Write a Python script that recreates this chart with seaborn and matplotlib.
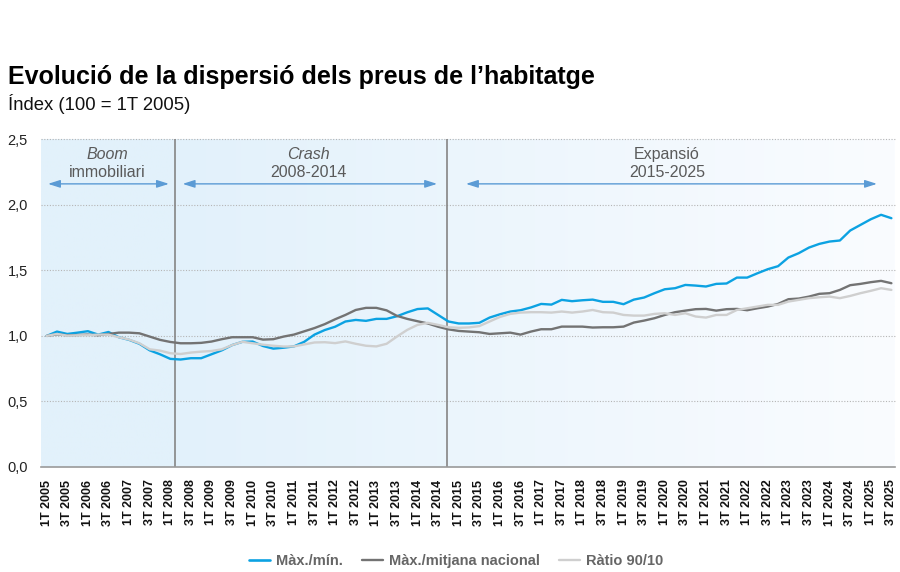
import numpy as np
import pandas as pd
import matplotlib
matplotlib.use("Agg")
import matplotlib.pyplot as plt
import seaborn as sns

# ---------------- data ----------------
quarters = [f"{q}T {y}" for y in range(2005, 2026) for q in (1, 2, 3, 4)][:83]
tick_labels = quarters[::2]

max_min = [
    1.00, 1.033, 1.015, 1.025, 1.036, 1.01, 1.03, 0.99, 0.97, 0.94,
    0.89, 0.86, 0.825, 0.82, 0.83, 0.83, 0.86, 0.89, 0.93, 0.955,
    0.957, 0.923, 0.903, 0.91, 0.92, 0.955, 1.01, 1.045, 1.07, 1.11,
    1.122, 1.115, 1.13, 1.13, 1.15, 1.18, 1.205, 1.21, 1.16, 1.11,
    1.095, 1.095, 1.10, 1.14, 1.165, 1.186, 1.196, 1.217, 1.244, 1.239,
    1.275, 1.265, 1.272, 1.277, 1.26, 1.26, 1.242, 1.277, 1.293, 1.326,
    1.356, 1.364, 1.389, 1.384, 1.377, 1.397, 1.40, 1.445, 1.445, 1.478,
    1.509, 1.532, 1.598, 1.631, 1.674, 1.702, 1.72, 1.728, 1.804, 1.847,
    1.89, 1.924, 1.898,
]
max_mitjana = [
    1.00, 1.012, 1.005, 1.007, 1.01, 1.005, 1.015, 1.025, 1.025, 1.02,
    0.995, 0.97, 0.954, 0.944, 0.944, 0.947, 0.957, 0.975, 0.99, 0.99,
    0.99, 0.972, 0.975, 0.995, 1.01, 1.035, 1.06, 1.09, 1.127, 1.16,
    1.198, 1.214, 1.214, 1.195, 1.153, 1.13, 1.112, 1.095, 1.07, 1.05,
    1.038, 1.033, 1.028, 1.015, 1.02, 1.025, 1.01, 1.033, 1.051, 1.051,
    1.071, 1.071, 1.071, 1.064, 1.066, 1.066, 1.071, 1.102, 1.117, 1.135,
    1.16, 1.181, 1.193, 1.204, 1.206, 1.193, 1.204, 1.206, 1.196, 1.211,
    1.224, 1.244, 1.28, 1.285, 1.30, 1.321, 1.326, 1.351, 1.387, 1.397,
    1.41, 1.42, 1.402,
]
ratio_90_10 = [
    1.00, 1.015, 1.002, 1.005, 1.005, 1.01, 1.01, 0.99, 0.972, 0.944,
    0.898, 0.888, 0.868, 0.862, 0.873, 0.88, 0.885, 0.898, 0.93, 0.955,
    0.944, 0.933, 0.925, 0.919, 0.92, 0.935, 0.95, 0.952, 0.945, 0.958,
    0.94, 0.925, 0.92, 0.94, 0.995, 1.046, 1.084, 1.10, 1.084, 1.066,
    1.062, 1.065, 1.075, 1.11, 1.145, 1.168, 1.178, 1.181, 1.181, 1.178,
    1.186, 1.178, 1.186, 1.198, 1.181, 1.178, 1.16, 1.155, 1.155, 1.168,
    1.173, 1.16, 1.173, 1.148, 1.14, 1.16, 1.16, 1.198, 1.211, 1.224,
    1.237, 1.237, 1.262, 1.275, 1.288, 1.295, 1.30, 1.288, 1.305, 1.326,
    1.344, 1.364, 1.351,
]

series_names = ["Màx./mín.", "Màx./mitjana nacional", "Ràtio 90/10"]
series_colors = ["#0CA2E2", "#737373", "#CFCFCF"]

period_titles = ["Boom", "Crash", "Expansió"]
period_subtitles = ["immobiliari", "2008-2014", "2015-2025"]

y_ticks = [0.0, 0.5, 1.0, 1.5, 2.0, 2.5]
y_tick_labels = ["0,0", "0,5", "1,0", "1,5", "2,0", "2,5"]

title = "Evolució de la dispersió dels preus de l’habitatge"
subtitle = "Índex (100 = 1T 2005)"

# ---------------- layout constants ----------------
XMIN, XMAX = -0.55, 82.35
breaks = [12.5, 38.9]
arrow_spans = [(0.13, 11.87), (13.2, 37.9), (40.7, 80.6)]
label_x = [5.92, 25.4, 60.2]

sns.set_theme(style="white")
plt.rcParams["font.family"] = ["Liberation Sans", "DejaVu Sans"]

df = pd.DataFrame({"idx": np.arange(len(quarters)), "quarter": quarters,
                   series_names[0]: max_min,
                   series_names[1]: max_mitjana,
                   series_names[2]: ratio_90_10})
long = df.melt(id_vars=["idx", "quarter"], value_vars=series_names,
               var_name="series", value_name="value")

fig = plt.figure(figsize=(9, 5.72), dpi=100)
ax = fig.add_axes([41 / 900, 1 - 467 / 572, (895 - 41) / 900, (467 - 139.3) / 572])

# background gradient
xs = np.linspace(XMIN, XMAX, 600)
t = np.clip((xs - breaks[0]) / (XMAX - breaks[0]), 0, 1)
c0 = np.array([226, 241, 251]) / 255
c1 = np.array([250, 252, 255]) / 255
img = c0[None, :] + (c1 - c0)[None, :] * t[:, None]
ax.imshow(img[None, :, :], extent=[XMIN, XMAX, 0, 2.5], aspect="auto",
          zorder=0, interpolation="bilinear")

# grid
for yv in y_ticks[1:]:
    ax.axhline(yv, color="#B5B5B5", lw=0.8, ls=(0, (1, 1.5)), zorder=1,
               clip_on=False)

# period separators
for b in breaks:
    ax.plot([b, b], [0, 2.5], color="#858585", lw=1.2, zorder=2,
            solid_capstyle="butt")

sns.lineplot(data=long, x="idx", y="value", hue="series",
             hue_order=series_names,
             palette=dict(zip(series_names, series_colors)),
             linewidth=1.7, ax=ax, legend=True)
zorders = [5, 3, 4]
for ln, z in zip(ax.lines[-3:], zorders):
    ln.set_zorder(z)
    ln.set_solid_joinstyle("round")
ax.lines[-3].set_linewidth(1.9)

handles, labels = ax.get_legend_handles_labels()
ax.get_legend().remove()

ax.set_xlim(XMIN, XMAX)
ax.set_ylim(0, 2.5)
ax.set_xlabel("")
ax.set_ylabel("")
ax.set_xticks(np.arange(0, len(quarters), 2))
ax.set_xticklabels(tick_labels, rotation=90, fontsize=9, fontweight="bold",
                   color="#111111")
ax.set_yticks(y_ticks)
ax.set_yticklabels(y_tick_labels, fontsize=10.5, color="#222222")
ax.tick_params(axis="x", length=0, pad=9)
ax.tick_params(axis="y", length=0, pad=9.5)
for s in ["top", "right", "left"]:
    ax.spines[s].set_visible(False)
ax.spines["bottom"].set_color("#9A9A9A")
ax.spines["bottom"].set_linewidth(1.2)
ax.spines["bottom"].set_zorder(6)

# period annotations
arrow_color = "#5B9BD5"
for (x0, x1), lx, t1, t2, it in zip(arrow_spans, label_x, period_titles,
                                    period_subtitles, [True, True, False]):
    ax.annotate("", xy=(x1, 2.16), xytext=(x0, 2.16),
                arrowprops=dict(arrowstyle="<|-|>,head_length=0.72,head_width=0.23",
                                color=arrow_color, lw=1.0, mutation_scale=10,
                                shrinkA=0, shrinkB=0), zorder=6)
    ax.text(lx, 2.387, t1, ha="center", va="center", fontsize=11.5,
            style="italic" if it else "normal", color="#5A5A5A", zorder=6)
    ax.text(lx, 2.247, t2, ha="center", va="center", fontsize=11.5,
            color="#5A5A5A", zorder=6)

# titles
fig.text(8 / 900, 1 - 77 / 572, title, fontsize=18, fontweight="bold",
         color="#000000", ha="left", va="center")
fig.text(8 / 900, 1 - 104 / 572, subtitle, fontsize=13.3, color="#111111",
         ha="left", va="center")

# legend
leg = fig.legend(handles, labels, loc="center", ncol=3,
                 bbox_to_anchor=(456 / 900, 1 - 561 / 572), frameon=False,
                 handlelength=1.45, handletextpad=0.4, columnspacing=1.3,
                 prop={"size": 10.5, "weight": "bold"})
for txt in leg.get_texts():
    txt.set_color("#666666")

fig.savefig("out.png", dpi=100)
